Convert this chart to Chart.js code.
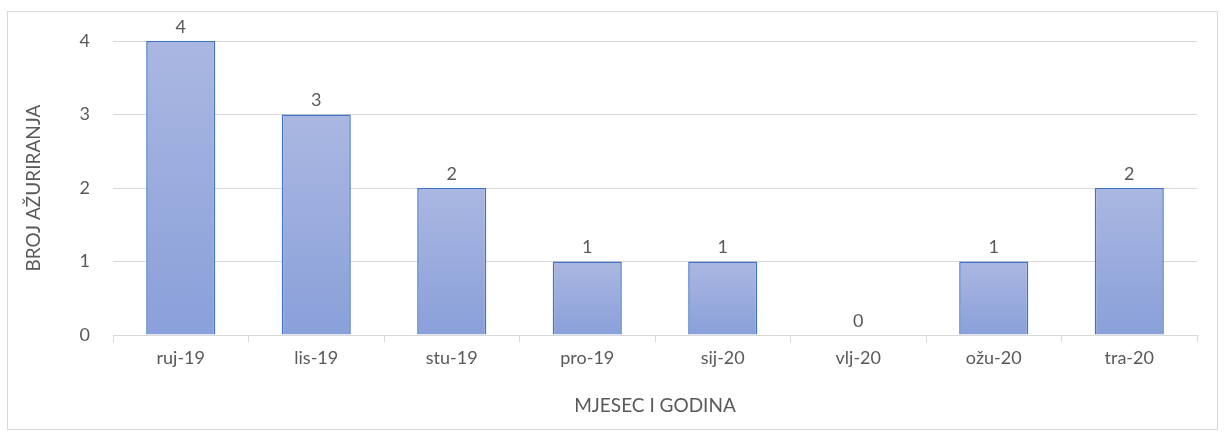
<!DOCTYPE html>
<html>
<head>
<meta charset="utf-8">
<script src="https://cdn.jsdelivr.net/npm/chart.js@4"></script>
<style>
  body { margin: 0; background: #fff; }
  #wrap { position: absolute; left: 0; top: 0; width: 1227px; height: 441px; }
</style>
</head>
<body>
<div id="wrap"><canvas id="updates_chart"></canvas></div>
<script>
var months = ["ruj-19", "lis-19", "stu-19", "pro-19", "sij-20", "vlj-20", "ožu-20", "tra-20"];
var updates = [4, 3, 2, 1, 1, 0, 1, 2];
var yTicks = [0, 1, 2, 3, 4];

var textGray = '#595959';
var fontName = 'Lato, "Open Sans", sans-serif';

// gradient per bar, light on top, darker at the base
function barFill(context) {
    var chart = context.chart;
    if (!chart.chartArea || context.type !== 'data') return '#9AACDD';
    var yScale = chart.scales.y;
    var top = yScale.getPixelForValue(context.parsed.y);
    var base = yScale.getPixelForValue(0);
    if (base - top < 1) return '#9AACDD';
    var g = chart.ctx.createLinearGradient(0, top, 0, base);
    g.addColorStop(0, '#AAB7E1');
    g.addColorStop(1, '#8AA0DA');
    return g;
}

// outer frame like the office chart border
const framePlugin = {
    id: 'frame',
    beforeDraw(chart) {
        var c = chart.ctx;
        c.save();
        c.strokeStyle = '#D9D9D9';
        c.lineWidth = 1;
        c.strokeRect(7.5, 11.5, 1210, 418);
        c.restore();
    }
};

// value above each bar
const valueLabels = {
    id: 'valueLabels',
    afterDatasetsDraw(chart) {
        var c = chart.ctx;
        var meta = chart.getDatasetMeta(0);
        c.save();
        c.fillStyle = textGray;
        c.font = '18px ' + fontName;
        c.textAlign = 'center';
        c.textBaseline = 'middle';
        meta.data.forEach(function(bar, i) {
            c.fillText(String(updates[i]), bar.x, bar.y - 14);
        });
        c.restore();
    }
};

const data = {
    labels: months,
    datasets: [{
        label: 'Broj ažuriranja',
        data: updates,
        backgroundColor: barFill,
        borderColor: '#4472C4',
        borderWidth: 1.5,
        categoryPercentage: 1.0,
        barPercentage: 0.51
    }]
};

const config = {
    type: 'bar',
    data: data,
    options: {
        responsive: true,
        maintainAspectRatio: false,
        animation: false,
        layout: { padding: { left: 22, right: 30, top: 41, bottom: 22 } },
        plugins: {
            legend: { display: false },
            tooltip: { enabled: false }
        },
        scales: {
            x: {
                grid: {
                    display: true,
                    drawOnChartArea: false,
                    drawTicks: true,
                    tickLength: 7,
                    color: '#D9D9D9',
                    offset: true
                },
                border: { display: true, color: '#D9D9D9', width: 1 },
                ticks: {
                    color: textGray,
                    font: { size: 18, family: fontName },
                    padding: 5,
                    maxRotation: 0
                },
                title: {
                    display: true,
                    text: 'MJESEC I GODINA',
                    color: textGray,
                    font: { size: 19, family: fontName },
                    padding: { top: 6, bottom: 2 }
                },
                afterFit: function(scale) { scale.height = 84; }
            },
            y: {
                min: 0,
                max: 4,
                afterBuildTicks: function(scale) {
                    scale.ticks = yTicks.map(function(v) { return { value: v }; });
                },
                grid: {
                    color: '#D9D9D9',
                    drawTicks: false
                },
                border: { display: false },
                ticks: {
                    color: textGray,
                    font: { size: 18, family: fontName },
                    padding: 23
                },
                title: {
                    display: true,
                    text: 'BROJ AŽURIRANJA',
                    color: textGray,
                    font: { size: 19, family: fontName },
                    padding: { top: 0, bottom: 0 }
                },
                afterFit: function(scale) { scale.width = 91; }
            }
        }
    },
    plugins: [framePlugin, valueLabels]
};

var chart = new Chart(document.getElementById('updates_chart'), config);
</script>
</body>
</html>
